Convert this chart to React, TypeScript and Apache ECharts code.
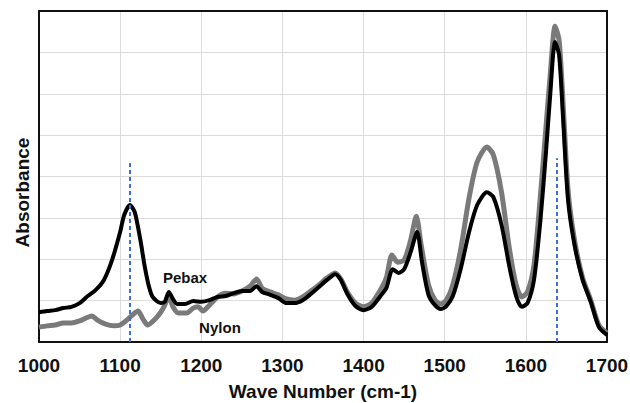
import React, { useEffect, useRef } from "react";
import * as echarts from "echarts";

const pebaxX = [1000,1010,1020,1030,1040,1050,1060,1070,1080,1090,1100,1105,1112,1118,1125,1130,1135,1140,1150,1155,1160,1165,1170,1180,1190,1200,1210,1220,1230,1240,1250,1260,1268,1275,1285,1295,1305,1315,1325,1335,1345,1355,1365,1372,1380,1390,1400,1410,1420,1428,1436,1443,1450,1458,1466,1472,1480,1488,1495,1502,1510,1520,1530,1540,1552,1560,1570,1580,1588,1595,1602,1610,1618,1625,1630,1636,1641,1646,1652,1660,1670,1680,1690,1700];
const pebaxY = [0.72,0.75,0.77,0.82,0.85,0.94,1.11,1.26,1.50,1.98,2.66,3.07,3.31,3.14,2.46,1.86,1.38,1.09,0.94,0.97,1.21,1.04,0.92,0.92,0.99,0.97,1.01,1.09,1.11,1.18,1.23,1.23,1.35,1.21,1.14,1.06,0.94,0.94,1.01,1.16,1.33,1.50,1.64,1.50,1.16,0.87,0.77,0.85,1.09,1.30,1.76,1.67,1.76,2.17,2.66,1.93,1.14,0.89,0.80,0.87,1.11,1.79,2.66,3.31,3.62,3.50,2.83,1.79,1.11,0.85,0.94,1.50,2.95,4.64,5.97,7.25,6.93,5.36,3.43,2.34,1.50,0.97,0.36,0.17];

const nylonX = [1000,1010,1020,1030,1040,1050,1058,1065,1072,1082,1092,1100,1110,1115,1122,1128,1134,1142,1150,1155,1160,1165,1172,1182,1190,1196,1202,1210,1220,1230,1240,1250,1260,1268,1275,1285,1295,1305,1315,1325,1335,1345,1355,1365,1372,1380,1390,1400,1410,1420,1428,1435,1442,1450,1458,1465,1471,1480,1488,1495,1502,1510,1520,1530,1540,1552,1560,1570,1580,1588,1595,1602,1610,1618,1625,1630,1636,1641,1646,1652,1660,1670,1680,1690,1700];
const nylonY = [0.36,0.39,0.41,0.46,0.46,0.51,0.58,0.63,0.53,0.43,0.39,0.41,0.56,0.65,0.75,0.56,0.41,0.53,0.72,0.89,1.11,0.85,0.70,0.70,0.82,0.85,0.75,0.89,1.09,1.18,1.16,1.23,1.35,1.52,1.30,1.21,1.14,1.04,1.01,1.09,1.23,1.38,1.55,1.67,1.52,1.21,0.94,0.85,0.94,1.23,1.55,2.10,1.93,1.98,2.46,3.04,2.34,1.38,1.01,0.92,1.01,1.38,2.27,3.48,4.35,4.71,4.52,3.62,2.22,1.38,1.09,1.21,1.86,3.55,5.24,6.45,7.63,7.29,5.72,3.67,2.46,1.55,1.01,0.41,0.22];

const markerX = [1112, 1638];
const markerTop = [4.35, 4.44];

const labelNames = ["Pebax", "Nylon"];
const labelX = [1180, 1223];
const labelY = [1.55, 0.36];

const xTicks = { min: 1000, max: 1700, interval: 100 };
const yTicks = { min: 0, max: 8, interval: 1 };

export default function App() {
  const ref = useRef<HTMLDivElement>(null);
  useEffect(() => {
    if (!ref.current) return;
    const chart = echarts.init(ref.current, undefined, { renderer: "svg" });
    const font = "Liberation Sans, Arial, sans-serif";
    const frameLine = { show: true, onZero: false, lineStyle: { color: "#111", width: 2 } };
    chart.setOption({
      animation: false,
      grid: {
        left: 39, right: 23, top: 11, bottom: 61,
        containLabel: false,
        outerBoundsMode: "none",
      },
      xAxis: [
        {
          type: "value",
          min: xTicks.min, max: xTicks.max, interval: xTicks.interval,
          name: "Wave Number (cm-1)",
          nameLocation: "middle",
          nameGap: 40,
          nameTextStyle: { fontFamily: font, fontWeight: "bold", fontSize: 19, color: "#111" },
          axisLine: frameLine,
          axisTick: { show: false },
          axisLabel: {
            margin: 14, fontFamily: font, fontWeight: "bold", fontSize: 19, color: "#111",
            formatter: (v: number) => String(v),
          },
          splitLine: { show: true, lineStyle: { color: "#dcdcdc", width: 1 } },
        },
        {
          type: "value", position: "top",
          min: xTicks.min, max: xTicks.max, interval: xTicks.interval,
          axisLine: frameLine, axisTick: { show: false }, axisLabel: { show: false },
          splitLine: { show: false },
        },
      ],
      yAxis: [
        {
          type: "value",
          min: yTicks.min, max: yTicks.max, interval: yTicks.interval,
          axisLine: frameLine,
          axisTick: { show: false },
          axisLabel: { show: false },
          splitLine: { show: true, lineStyle: { color: "#dcdcdc", width: 1 } },
        },
        {
          type: "value", position: "right",
          min: yTicks.min, max: yTicks.max, interval: yTicks.interval,
          axisLine: frameLine, axisTick: { show: false }, axisLabel: { show: false },
          splitLine: { show: false },
        },
      ],
      graphic: [
        {
          type: "text",
          x: 22, y: 192.5,
          rotation: Math.PI / 2,
          style: {
            text: "Absorbance", fill: "#111",
            font: `bold 19px ${font}`,
            align: "center", verticalAlign: "middle",
          },
        },
      ],
      series: [
        {
          type: "line",
          name: "Nylon",
          data: nylonX.map((x, i) => [x, nylonY[i]]),
          showSymbol: false,
          smooth: 0.25,
          lineStyle: { color: "#7a7a7a", width: 5 },
          z: 2,
        },
        {
          type: "line",
          name: "Pebax",
          data: pebaxX.map((x, i) => [x, pebaxY[i]]),
          showSymbol: false,
          smooth: 0.25,
          lineStyle: { color: "#000", width: 4 },
          z: 3,
          markLine: {
            silent: true,
            symbol: ["none", "none"],
            label: { show: false },
            lineStyle: { color: "#3b6fd6", type: [4, 3], width: 2 },
            data: markerX.map((x, i) => [
              { coord: [x, 0] },
              { coord: [x, markerTop[i]] },
            ]),
          },
        },
        {
          type: "scatter",
          data: labelNames.map((n, i) => ({ value: [labelX[i], labelY[i]], name: n })),
          symbolSize: 0,
          itemStyle: { opacity: 1 },
          z: 5,
          label: {
            show: true, position: "inside",
            formatter: (p: any) => p.name,
            fontFamily: font, fontWeight: "bold", fontSize: 15, color: "#111", opacity: 1,
          },
        },
      ],
    });
    return () => chart.dispose();
  }, []);
  return (
    <div
      ref={ref}
      style={{ position: "absolute", left: 0, top: 0, width: 630, height: 403, background: "#fff" }}
    />
  );
}
